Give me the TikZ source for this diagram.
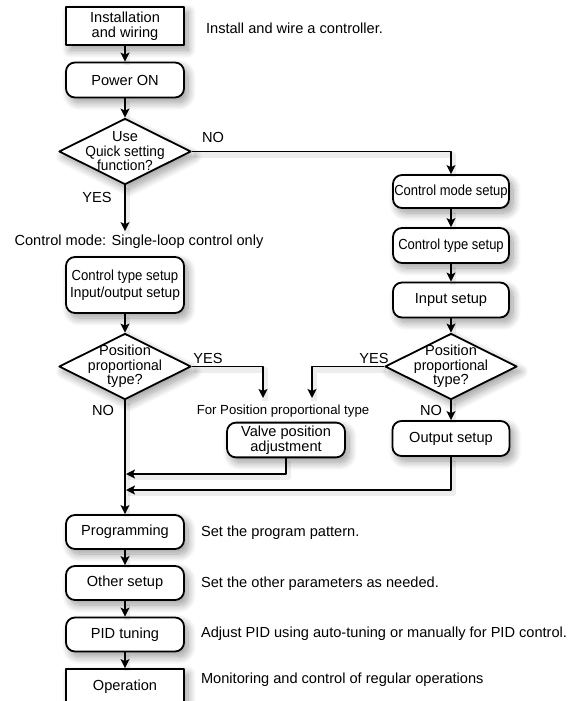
\documentclass[tikz,border=0pt]{standalone}
\usepackage{fontspec}
\setmainfont{Liberation Sans}
\usetikzlibrary{shapes.geometric,arrows.meta,shadows.blur}
\newcommand{\narrow}[2][0.9]{\scalebox{#1}[1]{#2}}
\tikzset{
  boxtext/.style={font=\fontsize{14.6}{14.5}\selectfont, align=center},
  softshadow/.style={blur shadow={shadow xshift=4pt, shadow yshift=-5pt, shadow blur radius=8pt, shadow blur steps=14, shadow opacity=40}},
  proc/.style={boxtext, draw, line width=1.8pt, fill=white, rounded corners=9pt, minimum width=118pt, minimum height=35pt, inner xsep=1pt, softshadow},
  term/.style={proc, rounded corners=0pt},
  decide/.style={diamond, draw, line width=1.8pt, fill=white, minimum width=132pt, minimum height=66pt, inner sep=0pt, softshadow},
  note/.style={font=\fontsize{14.6}{17}\selectfont, anchor=west},
  tag/.style={font=\fontsize{14.6}{17}\selectfont},
  flow/.style={->, preaction={draw=black, opacity=0.07, line width=6pt, -, transform canvas={shift={(2pt,-3pt)}}}},
}
\begin{document}
\begin{tikzpicture}[x=1pt, y=-1pt, line width=1.5pt, line join=round, >={Stealth[length=9pt,width=9pt,inset=2pt]}]
	\useasboundingbox (0,0) rectangle (572,701);
	% left column
	\node[term, minimum height=38pt] (inst) at (125,26) {Installation\\and wiring};
	\node[proc] (pwr) at (125,80) {Power ON};
	\node[decide, label={[boxtext]center:Use\\\narrow[0.94]{Quick setting}\\\narrow[0.94]{function?}}] (quick) at (125,151.5) {};
	\node[tag] (mode) at (139,242) {Control mode: Single-loop control only};
	\node[proc, minimum height=56pt] (ctlin) at (125,285) {\narrow{Control type setup}\\[3pt]\narrow[0.94]{Input/output setup}};
	\node[decide, label={[boxtext]center:Position\\\narrow[0.96]{proportional}\\type?}] (posl) at (125,366.5) {};
	% right column
	\node[proc, minimum width=116pt, minimum height=33pt] (cmode) at (451,191.5) {\narrow[0.89]{Control mode setup}};
	\node[proc, minimum width=116pt] (ctype) at (451,245.5) {\narrow[0.89]{Control type setup}};
	\node[proc, minimum width=116pt] (input) at (451,300) {Input setup};
	\node[decide, label={[boxtext]center:Position\\\narrow[0.96]{proportional}\\type?}] (posr) at (451,366.5) {};
	\node[proc, minimum width=117pt] (outset) at (451,438.5) {Output setup};
	% middle
	\node[font=\fontsize{13.2}{15}\selectfont] (posnote) at (283,411) {For Position proportional type};
	\node[proc, minimum height=34pt] (valve) at (286,440) {Valve position\\adjustment};
	% lower chain
	\node[proc, minimum height=34pt] (prog) at (125,532) {Programming};
	\node[proc, minimum height=34pt] (other) at (125,583) {Other setup};
	\node[proc, minimum height=34pt] (pid) at (125,634.5) {PID tuning};
	\node[term, minimum height=36pt] (oper) at (125,687) {Operation};
	% side notes
	\node[note] (instn) at (202,28) {Install and wire a controller.};
	\node[note] (progn) at (197,533) {Set the program pattern.};
	\node[note] (othern) at (197,584) {Set the other parameters as needed.};
	\node[note] (pidn) at (197,634) {Adjust PID using auto-tuning or manually for PID control.};
	\node[note] (opern) at (197,680) {Monitoring and control of regular operations};
	% YES / NO
	\node[tag] (qno) at (213,137) {NO};
	\node[tag] (qyes) at (97,197) {YES};
	\node[tag] (lyes) at (208,358) {YES};
	\node[tag] (ryes) at (374,358) {YES};
	\node[tag] (lno) at (103,410) {NO};
	\node[tag] (rno) at (431,410) {NO};
	\path (263,398) coordinate (ya) (312,398) coordinate (yb) (126,474) coordinate (j1) (126,490) coordinate (j2);
	\foreach \a/\b in {inst/pwr, pwr/quick, ctlin/posl, cmode/ctype, ctype/input, input/posr, posr/outset, posl/prog, prog/other, other/pid, pid/oper}{\draw[flow] (\a)--(\b);}
	\draw[flow] (quick.south)--(quick.south |- mode.north);
	\draw[flow] (quick.east)-|(cmode.north);
	\draw[flow] (posl.east)-|(ya);
	\draw[flow] (posr.west)-|(yb);
	\draw[flow] (valve.south)|-(j1);
	\draw[flow] (outset.south)|-(j2);
\end{tikzpicture}
\end{document}
